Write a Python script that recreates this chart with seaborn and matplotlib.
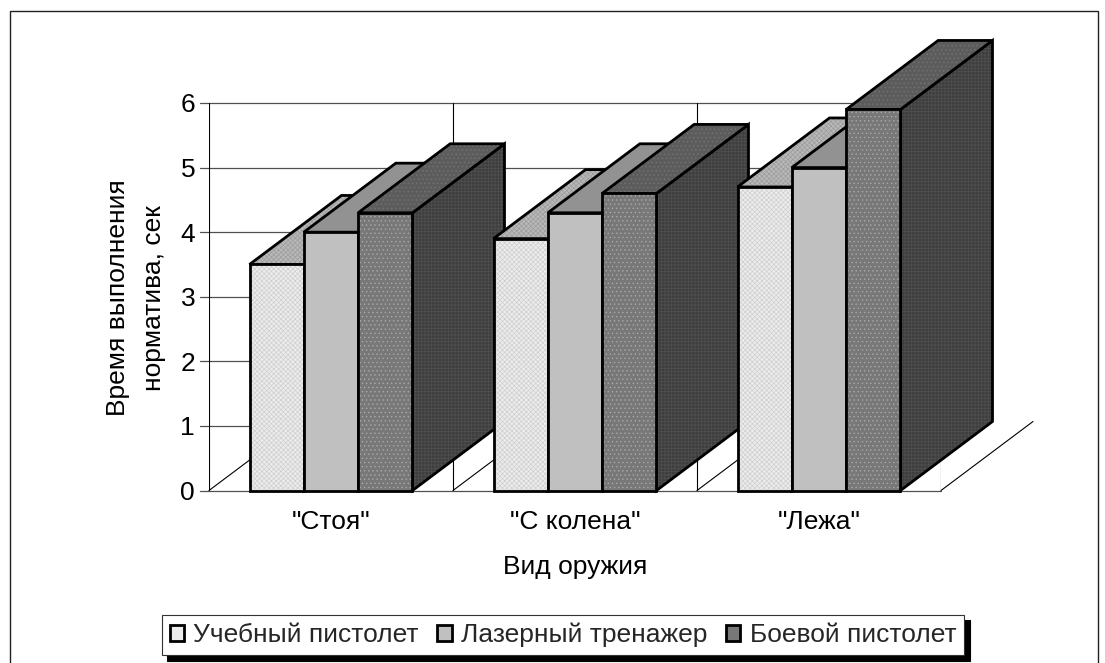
import numpy as np
import pandas as pd
import matplotlib
matplotlib.use('Agg')
import matplotlib.pyplot as plt
from matplotlib.patches import Polygon, Rectangle
import seaborn as sns

categories = ['"Стоя"', '"С колена"', '"Лежа"']
series_names = ['Учебный пистолет', 'Лазерный тренажер', 'Боевой пистолет']
training = [3.5, 3.9, 4.7]
laser = [4.0, 4.3, 5.0]
combat = [4.3, 4.6, 5.9]
y_ticks = [0, 1, 2, 3, 4, 5, 6]

front_colors = ['#ececec', '#c0c0c0', '#787878']
top_colors = ['#b8b8b8', '#929292', '#5c5c5c']
side_colors = ['#8c8c8c', '#6e6e6e', '#3e3e3e']
front_hatch = [('xxxxxxx', '#cfcfcf'), ('', '#c0c0c0'), ('....', '#a8a8a8')]
top_hatch = [('xxxxxxx', '#9c9c9c'), ('', '#929292'), ('....', '#747474')]
side_hatch = [('', '#8c8c8c'), ('', '#6e6e6e'), ('+++++', '#505050')]

W, H = 1105, 663
DEPTH_X, DEPTH_Y = 92, 69  # 3d offset in pixels
EDGE = 2.0

df = pd.DataFrame({
    'cat': categories * 3,
    'series': np.repeat(series_names, 3),
    'val': training + laser + combat,
})

sns.set_theme(style='white')
plt.rcParams['font.family'] = ['Liberation Sans', 'DejaVu Sans']
plt.rcParams['hatch.linewidth'] = 0.5

fig = plt.figure(figsize=(W / 100, H / 100), dpi=100)
fig.add_artist(Rectangle((9.5 / W, 1 - 680 / H), 1088 / W, 668.5 / H, fill=False,
                         ec='#222222', lw=1.0, transform=fig.transFigure))
ax = fig.add_axes([209 / W, 1 - 490.5 / H, 732 / W, 387.5 / H])

sns.barplot(data=df, x='cat', y='val', hue='series', order=categories,
            hue_order=series_names, palette=front_colors, width=0.668, gap=0,
            saturation=1, dodge=True, ax=ax)

ax.set_xlim(-0.5, 2.5)
ax.set_ylim(0, 6)
px_x = 3 / 732
px_y = 6 / 387.5
dx, dy = DEPTH_X * px_x, DEPTH_Y * px_y


def add_face(pts, color, hatch_spec, z):
    hatch, hatch_color = hatch_spec
    ax.add_patch(Polygon(pts, closed=True, fc=color, ec=hatch_color, hatch=hatch, lw=0,
                         zorder=z, clip_on=False))
    ax.add_patch(Polygon(pts, closed=True, fill=False, ec='black', lw=EDGE,
                         joinstyle='miter', zorder=z + 0.001, clip_on=False))


# gridlines and floor, behind the bars
for t in y_ticks:
    ax.plot([-0.5 - 9 * px_x, 2.5], [t, t], color='#505050', lw=0.9, zorder=1, clip_on=False)
for i in range(4):
    x0 = -0.5 + i
    ax.plot([x0, x0], [0, 6], color='black', lw=0.8, zorder=1)
    ax.plot([x0, x0 + dx], [0, dy], color='black', lw=0.8, zorder=1, clip_on=False)

# extrude every bar, left to right so the later ones cover the earlier ones
for s, container in enumerate(ax.containers):
    for bar in container:
        x0, w, h = bar.get_x(), bar.get_width(), bar.get_height()
        z = 3 + x0
        top = [(x0, h), (x0 + dx, h + dy), (x0 + w + dx, h + dy), (x0 + w, h)]
        side = [(x0 + w, 0), (x0 + w + dx, dy), (x0 + w + dx, h + dy), (x0 + w, h)]
        add_face(side, side_colors[s], side_hatch[s], z)
        add_face(top, top_colors[s], top_hatch[s], z + 0.002)
        bar.set_zorder(z + 0.004)
        bar.set_edgecolor(front_hatch[s][1])
        bar.set_linewidth(0)
        bar.set_hatch(front_hatch[s][0])
        ax.add_patch(Rectangle((x0, 0), w, h, fill=False, ec='black', lw=EDGE,
                               joinstyle='miter', zorder=z + 0.005, clip_on=False))

sns.despine(ax=ax, left=True, bottom=True, right=True, top=True)
ax.set_yticks(y_ticks)
ax.tick_params(axis='y', length=0, pad=10, labelsize=19, colors='black')
ax.tick_params(axis='x', length=0, pad=14, labelsize=19, colors='black')
ax.set_xlabel('Вид оружия', fontsize=19, labelpad=15, color='black')
ax.set_ylabel('')
fig.text(136 / W, 1 - 298 / H, 'Время выполнения\nнорматива, сек', rotation=90,
         ha='center', va='center', fontsize=19, color='black', linespacing=1.6)

handles, labels = ax.get_legend_handles_labels()
ax.get_legend().remove()
for hd in handles:
    hd.set_edgecolor('black')
    hd.set_linewidth(EDGE)
leg = fig.legend(handles, labels, ncol=3, loc='center', fontsize=19,
                 bbox_to_anchor=(563 / W, 1 - 635 / H), fancybox=False,
                 edgecolor='#333333', framealpha=1, handlelength=0.55, handleheight=0.55,
                 handletextpad=0.35, columnspacing=0.7, borderpad=0.3, borderaxespad=0,
                 shadow={'color': 'black', 'alpha': 1, 'ox': 4, 'oy': -4})
leg.get_frame().set_linewidth(0.8)

fig.savefig('out.png', dpi=100)
